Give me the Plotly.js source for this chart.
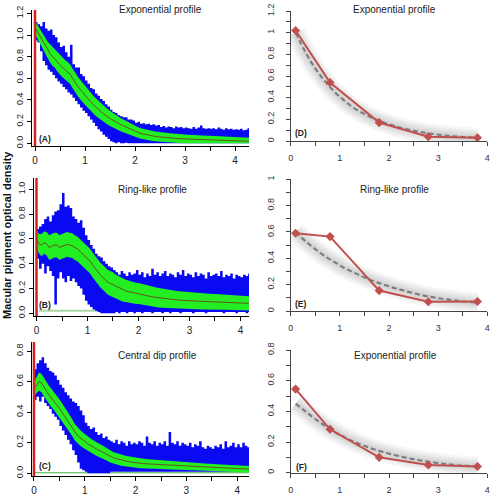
<!DOCTYPE html>
<html>
<head>
<meta charset="utf-8">
<script src="https://cdn.plot.ly/plotly-3.0.1.min.js"></script>
<style>html,body{margin:0;padding:0;background:#fff}#chart{width:492px;height:502px}</style>
</head>
<body>
<div id="chart"></div>
<script>
// ---------- data: left panels (distance in degrees, optical density) ----------
const xs = [0,0.05,0.1,0.15,0.2,0.25,0.3,0.35,0.4,0.45,
 0.5,0.55,0.6,0.65,0.7,0.75,0.8,0.85,0.9,0.95,
 1,1.05,1.1,1.15,1.2,1.25,1.3,1.35,1.4,1.45,
 1.5,1.55,1.6,1.65,1.7,1.75,1.8,1.85,1.9,1.95,
 2,2.05,2.1,2.15,2.2,2.25,2.3,2.35,2.4,2.45,
 2.5,2.55,2.6,2.65,2.7,2.75,2.8,2.85,2.9,2.95,
 3,3.05,3.1,3.15,3.2,3.25,3.3,3.35,3.4,3.45,
 3.5,3.55,3.6,3.65,3.7,3.75,3.8,3.85,3.9,3.95,
 4,4.05,4.1,4.15,4.2,4.25,4.3,4.35,4.4,4.45];

// Panel A
const meanA = [1.07,1.03,0.99,0.94,0.90,0.86,0.83,0.80,0.78,0.75,
 0.72,0.70,0.68,0.66,0.64,0.60,0.56,0.53,0.50,0.47,
 0.445,0.42,0.39,0.365,0.34,0.32,0.30,0.28,0.26,0.245,
 0.23,0.215,0.20,0.187,0.175,0.165,0.154,0.143,0.13,0.12,
 0.11,0.10,0.093,0.087,0.081,0.076,0.071,0.067,0.064,0.061,
 0.058,0.055,0.053,0.051,0.049,0.047,0.045,0.044,0.042,0.041,
 0.040,0.039,0.038,0.037,0.036,0.035,0.034,0.033,0.033,0.032,
 0.031,0.030,0.030,0.029,0.028,0.028,0.027,0.026,0.026,0.025,
 0.024,0.023,0.022,0.022,0.021,0.020,0.019,0.018,0.017,0.016];
const sdA = [0.06,0.065,0.07,0.075,0.08,0.08,0.085,0.085,0.085,0.09,
 0.09,0.09,0.09,0.09,0.09,0.09,0.09,0.09,0.09,0.09,
 0.09,0.088,0.086,0.084,0.082,0.08,0.078,0.076,0.074,0.072,
 0.07,0.068,0.066,0.064,0.062,0.06,0.058,0.056,0.054,0.052,
 0.05,0.05,0.049,0.048,0.048,0.047,0.047,0.046,0.046,0.045,
 0.045,0.045,0.044,0.044,0.043,0.043,0.042,0.042,0.042,0.041,
 0.041,0.041,0.04,0.04,0.04,0.04,0.039,0.039,0.039,0.038,
 0.038,0.038,0.037,0.037,0.037,0.036,0.036,0.036,0.035,0.035,
 0.035,0.035,0.034,0.034,0.034,0.033,0.033,0.033,0.032,0.032];
const blueHiA = [1.12,1.10,1.08,1.12,1.06,1.04,1.05,1.00,0.98,0.93,
 0.89,0.90,0.84,0.80,0.91,0.73,0.70,0.70,0.64,0.62,
 0.58,0.55,0.51,0.50,0.46,0.44,0.41,0.39,0.36,0.34,
 0.31,0.29,0.28,0.26,0.25,0.24,0.24,0.22,0.22,0.21,
 0.19,0.20,0.18,0.185,0.175,0.18,0.17,0.175,0.165,0.17,
 0.15,0.16,0.145,0.155,0.15,0.14,0.155,0.145,0.15,0.14,
 0.145,0.14,0.135,0.15,0.135,0.145,0.165,0.14,0.135,0.14,
 0.135,0.14,0.13,0.145,0.135,0.125,0.14,0.13,0.135,0.125,
 0.13,0.125,0.135,0.12,0.125,0.14,0.12,0.13,0.12,0.125];
const blueLoA = [0.95,0.93,0.85,0.76,0.72,0.68,0.66,0.63,0.60,0.57,
 0.55,0.52,0.50,0.47,0.45,0.42,0.39,0.36,0.33,0.30,
 0.28,0.25,0.22,0.19,0.16,0.13,0.11,0.08,0.06,0.04,
 0.02,0.01,0,0.01,0,0,0.005,0,0,0,
 0,0,0,0,0,0,0,0,0,0,
 0,0,0,0,0,0,0,0,0,0,
 0,0,0,0,0,0,0,0,0,0,
 0,0,0,0,0,0,0,0,0,0,
 0,0,0,0,0,0,0,0,0,0];

// Panel B
const meanB = [0.60,0.56,0.55,0.57,0.56,0.53,0.54,0.55,0.55,0.53,
 0.54,0.55,0.555,0.55,0.545,0.53,0.52,0.50,0.48,0.46,
 0.44,0.42,0.39,0.36,0.34,0.31,0.29,0.27,0.25,0.24,
 0.23,0.215,0.205,0.195,0.185,0.18,0.175,0.17,0.165,0.16,
 0.16,0.155,0.15,0.145,0.14,0.135,0.13,0.128,0.125,0.122,
 0.12,0.118,0.115,0.112,0.11,0.108,0.106,0.105,0.103,0.102,
 0.10,0.10,0.099,0.098,0.097,0.096,0.095,0.094,0.093,0.092,
 0.092,0.091,0.09,0.09,0.089,0.088,0.087,0.086,0.085,0.084,
 0.083,0.082,0.081,0.08,0.08,0.079,0.078,0.077,0.076,0.075];
const sdB = [0.07,0.08,0.09,0.09,0.095,0.1,0.1,0.1,0.1,0.1,
 0.1,0.1,0.1,0.1,0.1,0.1,0.1,0.1,0.1,0.1,
 0.1,0.1,0.1,0.1,0.1,0.1,0.1,0.1,0.1,0.1,
 0.1,0.098,0.096,0.094,0.092,0.09,0.09,0.088,0.087,0.086,
 0.085,0.084,0.083,0.082,0.081,0.08,0.08,0.079,0.078,0.077,
 0.076,0.075,0.075,0.074,0.073,0.072,0.072,0.071,0.07,0.07,
 0.069,0.068,0.068,0.067,0.066,0.066,0.065,0.065,0.064,0.064,
 0.063,0.063,0.062,0.062,0.061,0.061,0.06,0.06,0.06,0.059,
 0.059,0.058,0.058,0.058,0.057,0.057,0.057,0.056,0.056,0.056];
const blueHiB = [0.68,0.70,0.72,0.76,0.78,0.74,0.79,0.82,0.83,0.88,
 0.97,0.86,0.87,0.85,0.78,0.76,0.73,0.75,0.69,0.63,
 0.59,0.55,0.52,0.48,0.46,0.45,0.42,0.40,0.38,0.37,
 0.35,0.33,0.31,0.34,0.32,0.30,0.33,0.31,0.32,0.35,
 0.31,0.33,0.29,0.32,0.30,0.36,0.31,0.33,0.30,0.32,
 0.34,0.30,0.32,0.31,0.29,0.33,0.31,0.35,0.30,0.32,
 0.31,0.29,0.33,0.30,0.32,0.31,0.28,0.33,0.30,0.31,
 0.32,0.30,0.34,0.29,0.31,0.30,0.32,0.28,0.31,0.30,
 0.29,0.31,0.30,0.32,0.29,0.30,0.31,0.30,0.29,0.30];
const blueLoB = [0.44,0.36,0.40,0.32,0.38,0.34,0.30,0.07,0.28,0.33,
 0.28,0.25,0.30,0.26,0.28,0.25,0.22,0.20,0.15,0.10,
 0.07,0.05,0.03,0.02,0.01,0,0,0,0,0,
 0,0.01,0,0.01,0.01,0,0.01,0.01,0,0.01,
 0.01,0,0.01,0.01,0.01,0,0.01,0.01,0.01,0,
 0.01,0.01,0,0.01,0.01,0.01,0,0.01,0.01,0.01,
 0.01,0,0.01,0.01,0.01,0.01,0,0.01,0.01,0.01,
 0.01,0.01,0.01,0,0.01,0.01,0.01,0.01,0,0.01,
 0.01,0.01,0,0.01,0.01,0.01,0.01,0,0.01,0.01];

// Panel C
const meanC = [0.55,0.58,0.60,0.59,0.56,0.535,0.51,0.49,0.47,0.447,
 0.425,0.40,0.375,0.35,0.327,0.30,0.27,0.25,0.235,0.22,
 0.207,0.195,0.185,0.174,0.163,0.155,0.147,0.14,0.13,0.12,
 0.11,0.103,0.097,0.092,0.087,0.083,0.08,0.077,0.074,0.071,
 0.069,0.067,0.065,0.063,0.062,0.061,0.06,0.059,0.058,0.057,
 0.056,0.055,0.054,0.053,0.052,0.051,0.05,0.049,0.048,0.047,
 0.046,0.045,0.045,0.044,0.043,0.042,0.041,0.04,0.04,0.039,
 0.038,0.037,0.036,0.035,0.034,0.034,0.033,0.032,0.031,0.03,
 0.029,0.028,0.027,0.027,0.026,0.025,0.025,0.024,0.023,0.023];
const sdC = [0.05,0.055,0.06,0.06,0.06,0.06,0.06,0.06,0.06,0.06,
 0.06,0.06,0.06,0.058,0.056,0.055,0.054,0.053,0.052,0.05,
 0.048,0.047,0.046,0.045,0.044,0.043,0.042,0.041,0.04,0.04,
 0.039,0.038,0.037,0.036,0.036,0.035,0.035,0.034,0.034,0.033,
 0.033,0.033,0.032,0.032,0.031,0.031,0.031,0.03,0.03,0.03,
 0.029,0.029,0.029,0.028,0.028,0.028,0.027,0.027,0.027,0.026,
 0.026,0.026,0.026,0.025,0.025,0.025,0.025,0.024,0.024,0.024,
 0.024,0.023,0.023,0.023,0.023,0.022,0.022,0.022,0.022,0.022,
 0.021,0.021,0.021,0.021,0.021,0.02,0.02,0.02,0.02,0.02];
const blueHiC = [0.68,0.72,0.74,0.76,0.72,0.69,0.67,0.66,0.64,0.61,
 0.58,0.56,0.53,0.51,0.49,0.47,0.46,0.44,0.41,0.38,
 0.33,0.31,0.29,0.30,0.27,0.25,0.26,0.23,0.24,0.22,
 0.21,0.20,0.22,0.19,0.21,0.20,0.18,0.21,0.19,0.20,
 0.19,0.21,0.20,0.18,0.24,0.20,0.19,0.21,0.18,0.20,
 0.19,0.21,0.18,0.27,0.20,0.19,0.21,0.18,0.20,0.19,
 0.18,0.20,0.17,0.19,0.18,0.21,0.17,0.16,0.18,0.17,
 0.16,0.18,0.17,0.19,0.16,0.21,0.17,0.18,0.20,0.17,
 0.19,0.17,0.20,0.18,0.17,0.19,0.18,0.17,0.19,0.18];
const blueLoC = [0.48,0.50,0.47,0.50,0.46,0.44,0.42,0.39,0.37,0.35,
 0.31,0.28,0.25,0.22,0.19,0.15,0.12,0.07,0.03,0.02,
 0.01,0,0,0,0,0,0,0,0,0,
 0.01,0.01,0.01,0.01,0.01,0.01,0.01,0.01,0.01,0.01,
 0.01,0.01,0.01,0.01,0.01,0.01,0.01,0.01,0.01,0.01,
 0.01,0.01,0.01,0.01,0.01,0.01,0.01,0.01,0.01,0.01,
 0.01,0.01,0.01,0.01,0.01,0.01,0.01,0.01,0.01,0.01,
 0.01,0.01,0.01,0.01,0.01,0.01,0.01,0.01,0.01,0.01,
 0.01,0.01,0.01,0.01,0.01,0.01,0.01,0.01,0.01,0.01];

// baseline segments (light green) in B and C
const baseBx = [0.05, 1.2], baseBy = [0.02, 0.02];
const baseCx = [0, 4.45], baseCy = [0.003, 0.003];

// ---------- data: right panels ----------
const ptX = [0.1, 0.8, 1.8, 2.8, 3.8];
const valD = [1.02, 0.54, 0.17, 0.04, 0.03];
const valE = [0.59, 0.565, 0.155, 0.07, 0.072];
const valF = [0.545, 0.283, 0.10, 0.05, 0.04];
const fitX = [0.1,0.3,0.5,0.7,0.9,1.1,1.3,1.5,1.7,1.9,2.1,2.3,2.5,2.7,2.9,3.1,3.3,3.5,3.8];
const fitD = [1.0,0.82,0.67,0.55,0.45,0.37,0.30,0.25,0.205,0.17,0.14,0.115,0.095,0.078,0.064,0.053,0.045,0.038,0.03];
const fitE = [0.6,0.53,0.47,0.415,0.37,0.325,0.29,0.255,0.225,0.2,0.175,0.155,0.135,0.118,0.104,0.092,0.082,0.073,0.062];
const fitF = [0.45,0.40,0.35,0.305,0.265,0.23,0.2,0.175,0.152,0.133,0.116,0.101,0.088,0.077,0.067,0.059,0.052,0.046,0.04];

const titles = ['Exponential profile','Ring-like profile','Central dip profile','Exponential profile','Ring-like profile','Exponential profile'];
const panelLabels = ['(A)','(B)','(C)','(D)','(E)','(F)'];

// ---------- build ----------
const FONT = 'Liberation Sans, Arial, sans-serif';
const BLUE = '#0a0af2', GREEN = '#22ee22', MEANC = '#7a2a14';
const traces = [];
function leftPanel(xa, ya, mean, sd, lo, hi) {
  const gLo = mean.map((m, i) => Math.max(0, m - sd[i]));
  const gHi = mean.map((m, i) => m + sd[i]);
  const common = {x: xs, xaxis: xa, yaxis: ya, mode: 'lines', hoverinfo: 'skip', showlegend: false};
  traces.push(Object.assign({}, common, {y: lo, line: {width: 0, shape: 'hv'}}));
  traces.push(Object.assign({}, common, {y: hi, line: {width: 0, shape: 'hv'}, fill: 'tonexty', fillcolor: BLUE}));
  traces.push(Object.assign({}, common, {y: gLo, line: {width: 0}}));
  traces.push(Object.assign({}, common, {y: gHi, line: {width: 0}, fill: 'tonexty', fillcolor: GREEN}));
  traces.push(Object.assign({}, common, {y: mean, line: {width: 0.8, color: MEANC}}));
}
function rightPanel(xa, ya, fit, vals) {
  [20, 15, 11, 7, 4].forEach(w => traces.push({x: fitX, y: fit, xaxis: xa, yaxis: ya, mode: 'lines',
    line: {color: 'rgba(120,120,120,0.075)', width: w, shape: 'spline'}, hoverinfo: 'skip', showlegend: false}));
  traces.push({x: fitX, y: fit, xaxis: xa, yaxis: ya, mode: 'lines',
    line: {color: '#7a7a7a', width: 2, dash: '5px,3px', shape: 'spline'}, showlegend: false});
  traces.push({x: ptX, y: vals, xaxis: xa, yaxis: ya, mode: 'lines+markers',
    line: {color: '#c0504d', width: 2}, marker: {symbol: 'diamond', size: 7, color: '#c0504d'}, showlegend: false});
}
leftPanel('x', 'y', meanA, sdA, blueLoA, blueHiA);
traces.push({x: baseBx, y: baseBy, xaxis: 'x2', yaxis: 'y2', mode: 'lines', line: {color: '#a8d8a8', width: 2}, showlegend: false});
leftPanel('x2', 'y2', meanB, sdB, blueLoB, blueHiB);
traces.push({x: baseCx, y: baseCy, xaxis: 'x3', yaxis: 'y3', mode: 'lines', line: {color: '#3cb043', width: 1}, showlegend: false});
leftPanel('x3', 'y3', meanC, sdC, blueLoC, blueHiC);
rightPanel('x4', 'y4', fitD, valD);
rightPanel('x5', 'y5', fitE, valE);
rightPanel('x6', 'y6', fitF, valF);

const W = 492, H = 502;
const fx = p => p / W, fy = p => 1 - p / H;

function lx(dom, range, anchor) {
  return {domain: dom, range: range, anchor: anchor, showline: true, linecolor: '#000', linewidth: 1,
    ticks: 'outside', ticklen: 4, tickcolor: '#000', tick0: 0, dtick: 1, showgrid: false, zeroline: false,
    minor: {dtick: 0.5, ticks: 'outside', ticklen: 4, tickcolor: '#000'},
    tickfont: {family: FONT, size: 10, color: '#222'}, ticklabelstandoff: 1};
}
function ly(dom, range, anchor) {
  return {domain: dom, range: range, anchor: anchor, showline: true, linecolor: '#000', linewidth: 1,
    ticks: 'outside', ticklen: 4, tickcolor: '#000', tick0: 0, dtick: 0.2, tickformat: '.1f', tickangle: -90,
    showgrid: false, zeroline: false, tickfont: {family: FONT, size: 9, color: '#222'}, ticklabelstandoff: 0};
}
function rx(dom, anchor) {
  return {domain: dom, range: [0, 4], anchor: anchor, showline: true, linecolor: '#444', linewidth: 1,
    ticks: 'outside', ticklen: 4, tickcolor: '#444', tick0: 0, dtick: 1, showgrid: false, zeroline: false,
    minor: {dtick: 0.5, ticks: 'outside', ticklen: 4, tickcolor: '#444'},
    tickfont: {family: FONT, size: 9, color: '#333'}, ticklabelstandoff: 4};
}
function ry(dom, range, anchor) {
  return {domain: dom, range: range, anchor: anchor, showline: true, linecolor: '#444', linewidth: 1,
    ticks: 'outside', ticklen: 4, tickcolor: '#444', tick0: 0, dtick: 0.2, tickangle: -90,
    minor: {dtick: 0.1, ticks: 'outside', ticklen: 4, tickcolor: '#444'},
    showgrid: false, zeroline: false, tickfont: {family: FONT, size: 9, color: '#333'}, ticklabelstandoff: 8};
}

const layout = {
  width: W, height: H, margin: {l: 0, r: 0, t: 0, b: 0}, showlegend: false,
  paper_bgcolor: '#fff', plot_bgcolor: 'rgba(0,0,0,0)',
  xaxis: lx([fx(32), fx(249)], [-0.06, 4.28], 'y'),
  yaxis: ly([fy(146), fy(10)], [-0.025, 1.231], 'x'),
  xaxis2: lx([fx(33.5), fx(249)], [-0.0588, 4.167], 'y2'),
  yaxis2: ly([fy(316), fy(178)], [-0.022, 1.091], 'x2'),
  xaxis3: lx([fx(32), fx(249)], [-0.039, 4.232], 'y3'),
  yaxis3: ly([fy(476), fy(342)], [-0.018, 0.859], 'x3'),
  xaxis4: rx([fx(290.7), fx(487.3)], 'y4'),
  yaxis4: ry([fy(141), fy(11)], [0, 1.2], 'x4'),
  xaxis5: rx([fx(290.7), fx(487.3)], 'y5'),
  yaxis5: ry([fy(311), fy(179.3)], [0, 1], 'x5'),
  xaxis6: rx([fx(290.7), fx(487.3)], 'y6'),
  yaxis6: ry([fy(472.7), fy(350)], [0, 0.8], 'x6'),
  shapes: [['x','y'],['x2','y2'],['x3','y3']].map(([xa, ya]) => ({type: 'line', xref: xa, yref: ya + ' domain',
    x0: 0, x1: 0, y0: 0, y1: 1, line: {color: '#d42222', width: 2.5}})),
  annotations: []
};
const titlePos = [[160, 10], [152.8, 189], [157.8, 355], [394.6, 10], [394.7, 189], [395.3, 355.7]];
titles.forEach((t, i) => layout.annotations.push({text: t, xref: 'paper', yref: 'paper', x: fx(titlePos[i][0]), y: fy(titlePos[i][1]),
  xanchor: 'center', yanchor: 'middle', showarrow: false, font: {family: FONT, size: 10, color: '#222'}}));
const labPos = [[45, 139], [45, 305], [45, 466], [301, 133], [301, 304], [301, 466.7]];
panelLabels.forEach((t, i) => layout.annotations.push({text: '<b>' + t + '</b>', xref: 'paper', yref: 'paper', x: fx(labPos[i][0]), y: fy(labPos[i][1]),
  xanchor: 'center', yanchor: 'middle', showarrow: false, font: {family: FONT, size: 8.5, color: '#222'}}));
layout.annotations.push({text: '<b>Macular pigment optical density</b>', textangle: -90, xref: 'paper', yref: 'paper',
  x: fx(7), y: fy(235), xanchor: 'center', yanchor: 'middle', showarrow: false, font: {family: FONT, size: 11, color: '#111'}});

Plotly.newPlot('chart', traces, layout, {staticPlot: true, displayModeBar: false});
</script>
</body>
</html>
